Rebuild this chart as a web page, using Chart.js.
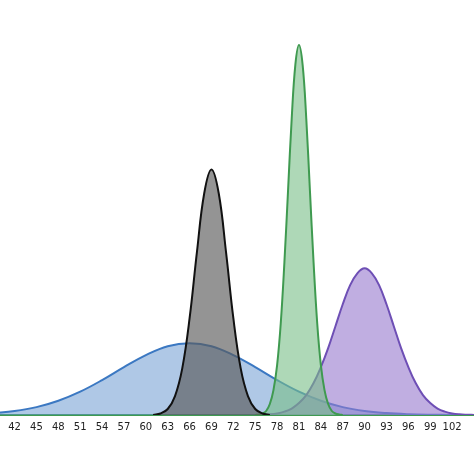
<!DOCTYPE html>
<html><head><meta charset="utf-8">
<script src="https://cdn.jsdelivr.net/npm/chart.js@4/dist/chart.umd.min.js"></script>
<style>html,body{margin:0;background:#fff}#c{width:474px;height:474px}</style>
</head><body><div id="c"><canvas id="chart" width="474" height="474"></canvas></div>
<script>
// tick labels on the x axis
const tickValues = [42,45,48,51,54,57,60,63,66,69,72,75,78,81,84,87,90,93,96,99,102];

// curve heights (baseline = 0)
const blackX = [61,62,63,64,65,66,67,68,69,70,71,72,73,74,75,76,77];
const blackY = [0,1.5,6,19,47,97,163,222,246,222,163,97,47,19,6,1.5,0];

const greenX = [75,75.5,76,76.5,77,77.5,78,78.5,79,79.5,80,80.5,81,81.5,82,82.5,83,83.5,84,84.5,85,85.5,86,86.5,87];
const greenY = [0,0.5,1.5,4,11,25,50,92,153,225,297,351,371,351,297,225,153,92,50,25,11,4,1.5,0.5,0];

const purpleX = [76,77,78,79,80,81,82,83,84,85,86,87,88,89,90,91,92,93,94,95,96,97,98,99,100,101,102,103,104,105];
const purpleY = [0.3,0.7,1.6,3.4,6.5,12,20,32,48,67,89,111,130,142,147,142,130,111,89,67,48,32,20,12,6.5,3.4,1.6,0.7,0.3,0.1];

const blueX = [39,42,45,48,51,54,57,60,63,66,69,72,75,78,81,84,87,90,93,96,99,102,105];
const blueY = [1.9,4.0,7.9,14.3,23.4,35,48,60,69,72,69,60,48,35,23.4,14.3,7.9,4.0,1.9,0.8,0.3,0.1,0];

const pts = (xs, ys) => xs.map((x, i) => ({ x: x, y: ys[i] }));

function curve(xs, ys, line, fill) {
  return {
    data: pts(xs, ys),
    borderColor: line,
    backgroundColor: fill,
    borderWidth: 2,
    fill: 'origin',
    pointRadius: 0,
    tension: 0.4
  };
}

new Chart(document.getElementById('chart').getContext('2d'), {
  type: 'line',
  data: {
    datasets: [
      curve(blackX, blackY, '#111111', 'rgba(90,90,90,0.65)'),
      curve(greenX, greenY, '#3f9a50', 'rgba(120,190,135,0.6)'),
      curve(purpleX, purpleY, '#6e4fb5', 'rgba(150,120,205,0.6)'),
      curve(blueX, blueY, '#3b78c2', 'rgba(95,145,205,0.5)')
    ]
  },
  options: {
    responsive: false,
    animation: false,
    layout: { padding: { top: 0, left: 0, right: 0, bottom: 39 } },
    plugins: { legend: { display: false }, tooltip: { enabled: false } },
    scales: {
      x: {
        type: 'linear', min: 40, max: 105,
        afterBuildTicks: axis => { axis.ticks = tickValues.map(v => ({ value: v })); },
        grid: { display: false, drawTicks: true, tickLength: 4 },
        border: { display: true, color: '#3f9a50', width: 2 },
        ticks: { color: '#222', font: { family: 'DejaVu Sans', size: 10 }, maxRotation: 0, autoSkip: false, padding: 2 }
      },
      y: { display: false, min: 0, max: 416 }
    }
  }
});
</script></body></html>
